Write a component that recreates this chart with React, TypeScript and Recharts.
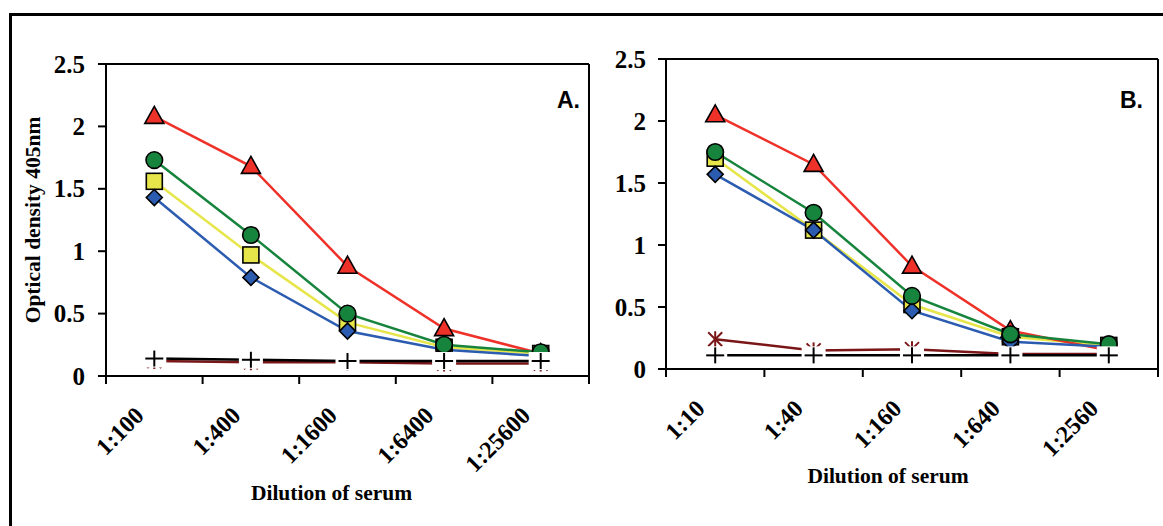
import { LineChart, Line, XAxis, YAxis, ReferenceLine } from "recharts";

// panel A: dilution of serum 1:100 .. 1:25600
const dilutionA = ["1:100", "1:400", "1:1600", "1:6400", "1:25600"];
const triangleA = [2.08, 1.68, 0.88, 0.38, 0.18];
const circleA = [1.73, 1.13, 0.5, 0.25, 0.19];
const squareA = [1.56, 0.97, 0.43, 0.23, 0.18];
const diamondA = [1.43, 0.79, 0.36, 0.21, 0.16];
const starA = [0.12, 0.11, 0.11, 0.1, 0.1];
const plusA = [0.14, 0.13, 0.12, 0.12, 0.12];

// panel B: dilution of serum 1:10 .. 1:2560
const dilutionB = ["1:10", "1:40", "1:160", "1:640", "1:2560"];
const triangleB = [2.05, 1.65, 0.83, 0.31, 0.15];
const circleB = [1.75, 1.26, 0.59, 0.28, 0.2];
const squareB = [1.7, 1.12, 0.52, 0.26, 0.19];
const diamondB = [1.57, 1.12, 0.47, 0.22, 0.18];
const starB = [0.24, 0.15, 0.16, 0.12, 0.12];
const plusB = [0.11, 0.11, 0.11, 0.11, 0.11];

const yTicks = [0, 0.5, 1, 1.5, 2, 2.5];

const SERIF = '"Liberation Serif", "Times New Roman", serif';
const SANS = '"Liberation Sans", Arial, sans-serif';
const RED = "#ee3129";
const GREEN = "#17843d";
const YELLOW = "#e6e64a";
const BLUE = "#2b5cb0";
const MAROON = "#7a1618";
const H = 526;

function buildRows(cats: string[], tri: number[], circ: number[], sq: number[], dia: number[], star: number[], plus: number[]) {
  return cats.map((dilution, i) => ({
    dilution,
    tri: tri[i],
    circ: circ[i],
    sq: sq[i],
    dia: dia[i],
    star: star[i],
    plus: plus[i],
  }));
}

const dataA = buildRows(dilutionA, triangleA, circleA, squareA, diamondA, starA, plusA);
const dataB = buildRows(dilutionB, triangleB, circleB, squareB, diamondB, starB, plusB);

const triangleDot = (p: any) => (
  <polygon
    key={`tri-${p.index}`}
    points={`${p.cx},${p.cy - 10} ${p.cx - 9.5},${p.cy + 7} ${p.cx + 9.5},${p.cy + 7}`}
    fill={RED}
    stroke="#000"
    strokeWidth={1.6}
  />
);
const circleDot = (p: any) => (
  <circle key={`circ-${p.index}`} cx={p.cx} cy={p.cy} r={8.3} fill={GREEN} stroke="#000" strokeWidth={1.6} />
);
const squareDot = (p: any) => (
  <rect key={`sq-${p.index}`} x={p.cx - 8} y={p.cy - 8} width={16} height={16} fill={YELLOW} stroke="#000" strokeWidth={1.6} />
);
const diamondDot = (p: any) => (
  <polygon
    key={`dia-${p.index}`}
    points={`${p.cx},${p.cy - 8} ${p.cx + 8},${p.cy} ${p.cx},${p.cy + 8} ${p.cx - 8},${p.cy}`}
    fill={BLUE}
    stroke="#000"
    strokeWidth={1.6}
  />
);
const starDot = (p: any) => (
  <g key={`star-${p.index}`} stroke={MAROON} strokeWidth={2}>
    <line x1={p.cx} y1={p.cy - 8} x2={p.cx} y2={p.cy + 8} />
    <line x1={p.cx - 7} y1={p.cy - 7} x2={p.cx + 7} y2={p.cy + 7} />
    <line x1={p.cx - 7} y1={p.cy + 7} x2={p.cx + 7} y2={p.cy - 7} />
  </g>
);
const plusDot = (p: any) => (
  <g key={`plus-${p.index}`}>
    <rect x={p.cx - 12} y={p.cy - 9} width={24} height={18} fill="#fff" />
    <g stroke="#000" strokeWidth={2}>
      <line x1={p.cx} y1={p.cy - 8} x2={p.cx} y2={p.cy + 8} />
      <line x1={p.cx - 9} y1={p.cy} x2={p.cx + 9} y2={p.cy} />
    </g>
  </g>
);

type PanelProps = {
  data: any[];
  left: number;
  width: number;
  top: number;
  right: number;
  yWidth: number;
  xHeight: number;
  yMargin: number;
  tag: string;
  tagDx: number;
  tagDy: number;
  titleDx: number;
  titleDy: number;
  yTitle?: boolean;
};

function Panel(props: PanelProps) {
  const { data, left, width, top, right, yWidth, xHeight, yMargin, tag, tagDx, tagDy, titleDx, titleDy, yTitle } = props;
  const plotW = width - yWidth - right;
  const plotBottom = H - xHeight;
  const plotTop = top;
  const plotRight = yWidth + plotW;
  const bw = plotW / data.length;
  const axisStyle = { stroke: "#000", strokeWidth: 2 };

  const renderXTick = (t: any) => {
    const px = t.x - 9;
    const py = plotBottom + 41;
    const last = t.index === data.length - 1;
    return (
      <g key={`xt-${t.index}`}>
        <line x1={t.x - bw / 2} y1={plotBottom} x2={t.x - bw / 2} y2={plotBottom + 8} stroke="#000" strokeWidth={2} />
        {last && (
          <g>
            <line x1={t.x + bw / 2} y1={plotBottom} x2={t.x + bw / 2} y2={plotBottom + 8} stroke="#000" strokeWidth={2} />
            {/* right edge of the plot frame */}
            <line x1={t.x + bw / 2} y1={plotTop} x2={t.x + bw / 2} y2={plotBottom} stroke="#000" strokeWidth={2} />
          </g>
        )}
        <text
          x={px}
          y={py}
          transform={`rotate(-45, ${px}, ${py})`}
          textAnchor="end"
          fontFamily={SERIF}
          fontWeight="bold"
          fontSize={24}
          fill="#000"
        >
          {t.payload.value}
        </text>
      </g>
    );
  };

  const renderYTick = (t: any) => (
    <text
      key={`yt-${t.index}`}
      x={t.x}
      y={t.y}
      textAnchor="end"
      dominantBaseline="central"
      fontFamily={SERIF}
      fontWeight="bold"
      fontSize={25}
      fill="#000"
    >
      {t.payload.value}
    </text>
  );

  const cy = plotTop + (plotBottom - plotTop) / 2;

  return (
    <div style={{ position: "absolute", left, top: 0 }}>
      <LineChart width={width} height={H} data={data} margin={{ top, right, bottom: 0, left: 0 }}>
        <XAxis
          dataKey="dilution"
          height={xHeight}
          padding={{ left: bw / 2, right: bw / 2 }}
          interval={0}
          tickLine={false}
          tickSize={8}
          tickMargin={0}
          axisLine={axisStyle}
          tick={renderXTick}
          label={{
            content: () => (
              <text
                x={yWidth + plotW / 2 + titleDx}
                y={plotBottom + titleDy}
                textAnchor="middle"
                fontFamily={SERIF}
                fontWeight="bold"
                fontSize={21.5}
                fill="#000"
              >
                Dilution of serum
              </text>
            ),
          }}
        />
        <YAxis
          width={yWidth}
          domain={[0, 2.5]}
          ticks={yTicks}
          interval={0}
          tickSize={8}
          tickMargin={yMargin}
          axisLine={axisStyle}
          tickLine={axisStyle}
          tick={renderYTick}
          label={{
            content: () => (
              <g>
                {yTitle && (
                  <text
                    x={33}
                    y={cy}
                    transform={`rotate(-90, 33, ${cy})`}
                    textAnchor="middle"
                    dominantBaseline="central"
                    fontFamily={SERIF}
                    fontWeight="bold"
                    fontSize={21.5}
                    fill="#000"
                  >
                    Optical density 405nm
                  </text>
                )}
                <text
                  x={plotRight + tagDx}
                  y={plotTop + tagDy}
                  textAnchor="end"
                  fontFamily={SANS}
                  fontWeight="bold"
                  fontSize={23}
                  fill="#000"
                >
                  {tag}
                </text>
              </g>
            ),
          }}
        />
        {/* top edge of the plot frame */}
        <ReferenceLine y={2.5} stroke="#000" strokeWidth={2} ifOverflow="extendDomain" />
        <Line dataKey="star" stroke={MAROON} strokeWidth={2.5} dot={starDot} activeDot={false} isAnimationActive={false} />
        <Line dataKey="sq" stroke={YELLOW} strokeWidth={2.5} dot={squareDot} activeDot={false} isAnimationActive={false} />
        <Line dataKey="tri" stroke={RED} strokeWidth={2.5} dot={triangleDot} activeDot={false} isAnimationActive={false} />
        <Line dataKey="dia" stroke={BLUE} strokeWidth={2.5} dot={diamondDot} activeDot={false} isAnimationActive={false} />
        <Line dataKey="circ" stroke={GREEN} strokeWidth={2.5} dot={circleDot} activeDot={false} isAnimationActive={false} />
        <Line dataKey="plus" stroke="#000" strokeWidth={2.5} dot={plusDot} activeDot={false} isAnimationActive={false} />
      </LineChart>
    </div>
  );
}

export default function App() {
  return (
    <div style={{ position: "fixed", left: 0, top: 0, width: 1163, height: H, background: "#fff", overflow: "hidden" }}>
      <div
        style={{
          position: "absolute",
          left: 8.5,
          top: 12.5,
          right: -20,
          bottom: -20,
          borderLeft: "3px solid #000",
          borderTop: "3px solid #000",
        }}
      />
      <Panel
        data={dataA}
        left={0}
        width={600}
        top={64}
        right={11}
        yWidth={106}
        xHeight={150}
        yMargin={13}
        tag="A."
        tagDx={-9}
        tagDy={44}
        titleDx={-16}
        titleDy={124}
        yTitle
      />
      <Panel
        data={dataB}
        left={580}
        width={583}
        top={59}
        right={5}
        yWidth={86}
        xHeight={157}
        yMargin={12}
        tag="B."
        tagDx={-15}
        tagDy={49}
        titleDx={-24}
        titleDy={114}
      />
    </div>
  );
}
